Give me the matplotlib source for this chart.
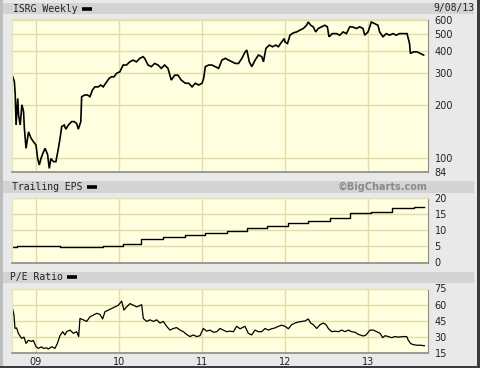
import matplotlib
matplotlib.use("Agg")
import matplotlib.pyplot as plt
from matplotlib.patches import Rectangle
from matplotlib.lines import Line2D
from matplotlib.ticker import FixedLocator, NullLocator, NullFormatter

# ---------------- data (decimal years) ----------------
price_t = [2008.72, 2008.74, 2008.75, 2008.76, 2008.78, 2008.79, 2008.81, 2008.83, 2008.85, 2008.86,
           2008.88, 2008.91, 2008.94, 2008.97, 2009.00, 2009.02, 2009.04, 2009.06, 2009.09, 2009.11,
           2009.14, 2009.16, 2009.18, 2009.21, 2009.24, 2009.27, 2009.29, 2009.31, 2009.34, 2009.36,
           2009.39, 2009.43, 2009.46, 2009.49, 2009.51, 2009.54, 2009.55, 2009.59, 2009.62, 2009.65,
           2009.68, 2009.71, 2009.75, 2009.78, 2009.81, 2009.84, 2009.88, 2009.91, 2009.94, 2009.97,
           2010.01, 2010.05, 2010.09, 2010.13, 2010.17, 2010.21, 2010.25, 2010.29, 2010.31, 2010.35,
           2010.39, 2010.43, 2010.47, 2010.51, 2010.55, 2010.59, 2010.63, 2010.67, 2010.71, 2010.75,
           2010.80, 2010.84, 2010.88, 2010.92, 2010.96, 2011.00, 2011.02, 2011.04, 2011.08, 2011.12,
           2011.16, 2011.20, 2011.24, 2011.28, 2011.32, 2011.36, 2011.40, 2011.44, 2011.48, 2011.52,
           2011.54, 2011.57, 2011.60, 2011.64, 2011.68, 2011.72, 2011.74, 2011.77, 2011.81, 2011.85,
           2011.89, 2011.92, 2011.96, 2011.99, 2012.00, 2012.03, 2012.06, 2012.10, 2012.14, 2012.18,
           2012.22, 2012.26, 2012.28, 2012.31, 2012.34, 2012.37, 2012.40, 2012.44, 2012.48, 2012.51,
           2012.53, 2012.57, 2012.62, 2012.66, 2012.70, 2012.74, 2012.78, 2012.82, 2012.86, 2012.90,
           2012.94, 2012.96, 2013.00, 2013.04, 2013.08, 2013.12, 2013.14, 2013.18, 2013.22, 2013.26,
           2013.30, 2013.34, 2013.38, 2013.43, 2013.47, 2013.50, 2013.51, 2013.55, 2013.59, 2013.63,
           2013.67]
price_v = [287, 269, 227, 154, 217, 175, 154, 200, 183, 148,
           114, 141, 130, 124, 119, 100, 92, 100, 109, 114,
           105, 88, 100, 96, 96, 114, 130, 151, 154, 146,
           154, 161, 161, 157, 146, 161, 222, 227, 227, 222,
           242, 252, 252, 258, 252, 264, 281, 287, 287, 300,
           306, 334, 334, 348, 356, 348, 364, 372, 364, 334,
           327, 341, 334, 320, 334, 320, 275, 293, 293, 275,
           264, 264, 252, 264, 258, 264, 281, 327, 334, 334,
           327, 320, 356, 364, 356, 348, 341, 341, 364, 396,
           405, 348, 327, 356, 380, 372, 348, 414, 432, 423,
           432, 423, 450, 470, 450, 441, 491, 506, 512, 524,
           535, 558, 582, 558, 547, 512, 535, 547, 558, 547,
           481, 501, 501, 491, 512, 501, 547, 545, 535, 547,
           535, 491, 512, 582, 570, 558, 512, 481, 501, 491,
           501, 491, 501, 501, 501, 441, 388, 396, 396, 388,
           380]

eps_t = [2008.71, 2008.77, 2009.29, 2009.55, 2009.81, 2010.05, 2010.27, 2010.53, 2010.80, 2011.04,
         2011.30, 2011.54, 2011.78, 2012.04, 2012.28, 2012.54, 2012.78, 2013.04, 2013.29, 2013.55,
         2013.68]
eps_v = [4.9, 5.0, 4.8, 4.95, 5.1, 5.6, 7.3, 7.9, 8.4, 9.3,
         9.9, 10.6, 11.4, 12.2, 13.0, 13.9, 15.2, 15.8, 16.9, 17.2,
         17.2]

pe_t = [2008.71, 2008.735, 2008.747, 2008.767, 2008.787, 2008.827, 2008.855, 2008.88, 2008.908, 2008.948,
        2008.968, 2009.00, 2009.028, 2009.068, 2009.088, 2009.129, 2009.149, 2009.189, 2009.229, 2009.257,
        2009.289, 2009.321, 2009.349, 2009.369, 2009.41, 2009.45, 2009.49, 2009.514, 2009.53, 2009.57,
        2009.61, 2009.651, 2009.691, 2009.731, 2009.771, 2009.803, 2009.831, 2009.871, 2009.912, 2009.952,
        2009.992, 2010.032, 2010.06, 2010.092, 2010.133, 2010.173, 2010.213, 2010.245, 2010.273, 2010.293,
        2010.333, 2010.373, 2010.414, 2010.454, 2010.494, 2010.534, 2010.574, 2010.614, 2010.655, 2010.695,
        2010.735, 2010.775, 2010.815, 2010.855, 2010.896, 2010.936, 2010.976, 2011.016, 2011.056, 2011.096,
        2011.137, 2011.177, 2011.217, 2011.257, 2011.297, 2011.337, 2011.378, 2011.418, 2011.458, 2011.518,
        2011.558, 2011.598, 2011.639, 2011.679, 2011.719, 2011.759, 2011.799, 2011.839, 2011.88, 2011.92,
        2011.96, 2012.00, 2012.04, 2012.08, 2012.12, 2012.161, 2012.201, 2012.241, 2012.281, 2012.309,
        2012.341, 2012.382, 2012.422, 2012.462, 2012.494, 2012.522, 2012.562, 2012.602, 2012.643, 2012.683,
        2012.723, 2012.763, 2012.803, 2012.843, 2012.884, 2012.944, 2012.976, 2013.024, 2013.064, 2013.104,
        2013.145, 2013.177, 2013.205, 2013.245, 2013.285, 2013.325, 2013.365, 2013.426, 2013.466, 2013.486,
        2013.514, 2013.546, 2013.586, 2013.627, 2013.679]
pe_v = [58.9, 50.4, 38.1, 38.5, 33.5, 28.8, 30, 24.2, 27, 26,
        27, 21.1, 19.6, 21, 19.6, 20, 19, 21, 19.6, 24,
        31.3, 35, 32, 35, 36.5, 33.5, 35, 30.5, 47.3, 46,
        44.5, 48.8, 50.4, 52, 51, 46.8, 53.5, 55, 56.5, 58,
        59.5, 63.3, 55, 58, 61, 59.5, 58, 59, 60, 47.3,
        44.5, 46, 44.5, 46, 43, 44.5, 40, 36.5, 38, 38.8,
        36.5, 35, 32.5, 30.5, 32, 30.5, 31.3, 38, 35.5, 36.5,
        34.5, 35, 38, 36.5, 35, 35.5, 35, 40, 37.7, 40,
        33.5, 32, 36.5, 35, 35, 38, 36.5, 37.7, 38.5, 40,
        41, 40, 37.7, 41.5, 43, 44, 44.5, 45, 46.8, 43,
        41.5, 38, 41.5, 43, 41.5, 38, 35, 35.5, 35, 36.5,
        35, 36.5, 35, 34.5, 32.5, 31, 32, 36.5, 36.5, 35,
        33.5, 29.5, 31.3, 30.5, 29.5, 30.5, 30, 30.5, 30.5, 27,
        24, 23, 22.5, 22.5, 22]

year_ticks = [2009, 2010, 2011, 2012, 2013]
year_labels = ["09", "10", "11", "12", "13"]
price_ticks = [84, 100, 200, 300, 400, 500, 600]
eps_ticks = [0, 5, 10, 15, 20]
pe_ticks = [15, 30, 45, 60, 75]

title_price = "ISRG Weekly"
title_eps = "Trailing EPS"
title_pe = "P/E Ratio"
date_label = "9/08/13"
credit = "\u00a9BigCharts.com"

# ---------------- style ----------------
W, H = 480, 368
FIG_BG = "#e9e9e9"
HDR_BG = "#d3d3d3"
PLOT_BG = "#ffffe0"
GRID = "#e2dda6"
TXT = "#222222"
XMIN, XMAX = 2008.711, 2013.719

fig = plt.figure(figsize=(W / 100, H / 100), dpi=100, facecolor=FIG_BG)
renderer = fig.canvas.get_renderer()


def fx(px):
    return px / W


def fy(py):
    return 1 - py / H


def header(y0, y1, x0=2, x1=474):
    fig.patches.append(Rectangle((fx(x0), fy(y1)), fx(x1 - x0), (y1 - y0) / H,
                                 transform=fig.transFigure, facecolor=HDR_BG,
                                 edgecolor="none", zorder=0))


mono = {"family": "DejaVu Sans Mono", "size": 7, "color": TXT}


def title_with_key(x, y, label):
    t = fig.text(fx(x), fy(y), label, va="center", ha="left", **mono)
    bb = t.get_window_extent(renderer=renderer)
    x0 = bb.x1 + 4
    fig.lines.append(Line2D([x0 / W, (x0 + 10) / W], [fy(y), fy(y)],
                            transform=fig.transFigure, color="black",
                            linewidth=2.6, solid_capstyle="butt"))


def panel(top, bottom):
    ax = fig.add_axes([fx(12), fy(bottom), fx(427.7 - 12), (bottom - top) / H])
    ax.set_facecolor(PLOT_BG)
    ax.set_xlim(XMIN, XMAX)
    ax.xaxis.set_major_locator(FixedLocator(year_ticks))
    ax.grid(True, color=GRID, linewidth=1.0)
    ax.set_axisbelow(True)
    ax.yaxis.tick_right()
    ax.tick_params(axis="both", length=0, labelsize=7, colors=TXT, pad=5)
    ax.tick_params(axis="x", labelbottom=False)
    for s in ("top", "left"):
        ax.spines[s].set_color("#e4e0b8")
    for s in ("bottom", "right"):
        ax.spines[s].set_color("#8c8c80")
    ax.spines["bottom"].set_linewidth(1.2)
    return ax


# headers
header(3, 14)
header(181, 192.5)
header(271.5, 282.5)

title_with_key(13, 8.5, title_price)
fig.text(fx(433), fy(8.5), date_label, va="center", ha="left", **mono)
title_with_key(12, 187, title_eps)
fig.text(fx(427.5), fy(187), credit, va="center", ha="right", family="DejaVu Sans",
         size=7, weight="bold", color="#8a8a8a")
title_with_key(10, 277, title_pe)

# price panel
ax1 = panel(19, 172)
ax1.set_yscale("log")
ax1.set_ylim(84, 605)
ax1.yaxis.set_major_locator(FixedLocator(price_ticks))
ax1.yaxis.set_minor_locator(NullLocator())
ax1.yaxis.set_minor_formatter(NullFormatter())
ax1.set_yticklabels([str(v) for v in price_ticks])
ax1.plot(price_t, price_v, color="black", linewidth=1.2, solid_joinstyle="miter")

# eps panel
ax2 = panel(198, 262.5)
ax2.set_ylim(0, 20)
ax2.yaxis.set_major_locator(FixedLocator(eps_ticks))
ax2.set_yticklabels([str(v) for v in eps_ticks])
ax2.plot(eps_t, eps_v, color="black", linewidth=1.0, drawstyle="steps-post")

# pe panel
ax3 = panel(288.5, 353.3)
ax3.set_ylim(15, 75)
ax3.yaxis.set_major_locator(FixedLocator(pe_ticks))
ax3.set_yticklabels([str(v) for v in pe_ticks])
ax3.plot(pe_t, pe_v, color="black", linewidth=0.9)
ax3.tick_params(axis="x", labelbottom=True, pad=3)
ax3.set_xticklabels(year_labels)

# outer frame: light on left, dark on right/bottom
fig.patches.append(Rectangle((0, 0), fx(2.5), 1, transform=fig.transFigure,
                             facecolor="#bdbdbd", edgecolor="none", zorder=1))
fig.patches.append(Rectangle((1 - fx(3), 0), fx(3), 1, transform=fig.transFigure,
                             facecolor="#3c3c3c", edgecolor="none", zorder=1))
fig.patches.append(Rectangle((0, 0), 1, 2.5 / H, transform=fig.transFigure,
                             facecolor="#3c3c3c", edgecolor="none", zorder=1))

fig.savefig("out.png", dpi=100, facecolor=FIG_BG)
